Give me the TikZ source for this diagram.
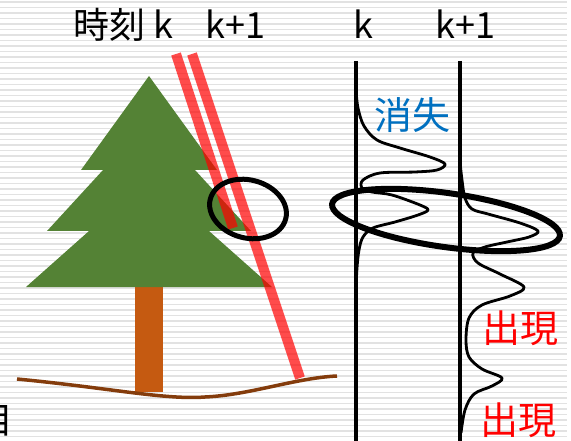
\documentclass[tikz,border=0pt]{standalone}
\usepackage{fontspec}
\setmainfont{Noto Sans CJK JP}
\usepackage{tikz}
\usetikzlibrary{positioning}
\definecolor{treegreen}{RGB}{84,130,53}
\definecolor{trunkbrown}{RGB}{197,90,17}
\definecolor{groundbrown}{RGB}{132,60,12}
\definecolor{vanishblue}{RGB}{0,112,192}
\definecolor{stripegray}{RGB}{226,226,226}
\tikzset{
stripe/.style={stripegray, line width=1.6}, % background line pattern
timelabel/.style={inner sep=0pt, font=\fontsize{36}{40}\selectfont}, % time labels on top
note/.style={inner sep=0pt, font=\fontsize{38}{42}\selectfont}, % words next to the curves
ray/.style={red, opacity=0.7, line width=10, line cap=butt}, % laser rays
axis/.style={black, line width=3.2}, % time axes
curve/.style={black, line width=2.8, line join=round}, % range profiles
spotring/.style={black, line width=5}, % circled spots
}

\begin{document}
\begin{tikzpicture}[x=1pt, y=-1pt]
      \useasboundingbox (0,0) rectangle (571,441);

      % background lines
      \foreach \y in {2,7.5,...,441}
        \draw[stripe] (0,\y) -- (567,\y);

      % ground and tree
      \fill[trunkbrown] (135,287) rectangle (163,392);
      \fill[treegreen] (149,76) -- (217,170) -- (81,170) -- cycle;
      \fill[treegreen] (103,170) -- (195,170) -- (251,231) -- (47,231) -- cycle;
      \fill[treegreen] (89,231) -- (209,231) -- (272,287) -- (26,287) -- cycle;
      \draw[groundbrown, line width=3.5] (17,379) .. controls (110,388) and (165,400) .. (205,397)
        .. controls (250,395) and (295,378) .. (337,376);

      % rays at time k and k+1
      \coordinate (rayk) at (176,54);
      \coordinate (raykend) at (233,228);
      \coordinate (raykk) at (192,54);
      \coordinate (raykkend) at (300,378);
      \draw[ray] (rayk) -- (raykend);
      \draw[ray] (raykk) -- (raykkend);

      % time axes
      \coordinate (ktop) at (356,61);
      \coordinate (kbot) at (356,441);
      \coordinate (kktop) at (460,61);
      \coordinate (kkbot) at (460,441);
      \draw[axis] (ktop) -- (kbot);
      \draw[axis] (kktop) -- (kkbot);

      % profile at k
      \draw[curve] plot[smooth, tension=0.55] coordinates {
        (356,90) (358,108) (364,126) (377,140) (400,148) (430,157) (445,164)
        (437,170) (415,172) (380,173) (363,180) (362,188) (372,192) (392,195)
        (420,205) (428,210) (418,215) (395,222) (373,228) (363,237) (359,250)
        (357,268) (356,290)};

      % profile at k+1
      \draw[curve] plot[smooth, tension=0.55] coordinates {
        (460,162) (462,180) (465,198) (472,209) (488,214) (520,223) (538,231)
        (529,237) (507,242) (485,247) (473,253) (478,263) (500,274) (524,287)
        (510,296) (482,305) (469,318) (466,340) (469,357) (482,369) (502,378)
        (492,386) (474,394) (465,410) (461,433)};

      % circled spots
      \draw[spotring, rotate around={-15:(248,209)}] (248,209) ellipse [x radius=39, y radius=29];
      \draw[spotring, line width=6, rotate around={-8:(446,220)}] (446,220) ellipse [x radius=115, y radius=27];

      % labels
      \node[timelabel, anchor=base west] (timek) at (73,39) {時刻 k};
      \node[timelabel, anchor=base west] (timekk) at (205,39) {k+1};
      \node[timelabel, anchor=base west] (axisk) at (353,39) {k};
      \node[timelabel, anchor=base west] (axiskk) at (435,39) {k+1};
      \node[note, vanishblue, anchor=base] (vanish) at (412,130) {消失};
      \node[note, red, anchor=base] (appear) at (520,342) {出現};
      \node[note, red, anchor=base] (appear2) at (518,434) {出現};
      \node[timelabel, anchor=north east] (cut) at (14,405) {目};
    \end{tikzpicture}
\end{document}
